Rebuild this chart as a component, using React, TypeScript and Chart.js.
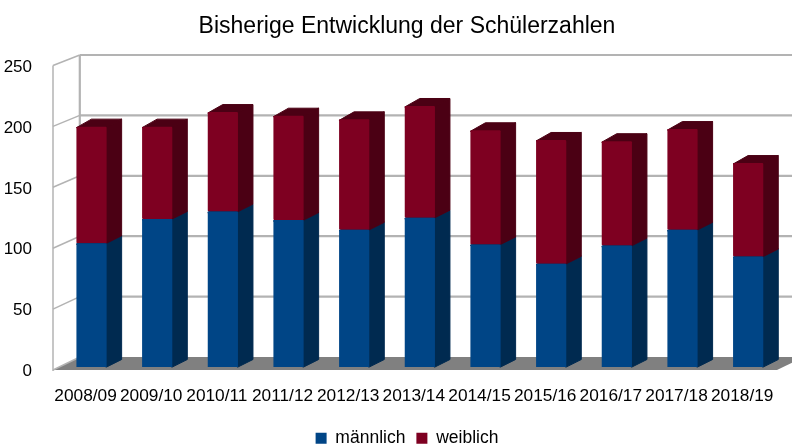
import React, { useEffect, useRef } from "react";
import { Chart, registerables } from "chart.js";

Chart.register(...registerables);

const categories = ["2008/09", "2009/10", "2010/11", "2011/12", "2012/13", "2013/14", "2014/15", "2015/16", "2016/17", "2017/18", "2018/19"];
const maleValues = [102, 122, 128, 121, 113, 123, 101, 85, 100, 113, 91];
const femaleValues = [96, 76, 82, 86, 91, 92, 94, 102, 86, 83, 77];
const yTicks = [0, 50, 100, 150, 200, 250];

const FONT = "'Liberation Sans', Arial, sans-serif";
const DEPTH_X = 15;
const DEPTH_Y = 7.5;

const shades: Record<string, { side: string; top: string }> = {
  "#004586": { side: "#002a50", top: "#002a50" },
  "#7e0021": { side: "#4b0014", top: "#4b0014" },
};

function poly(ctx: CanvasRenderingContext2D, pts: number[][], fill: string, round = false) {
  ctx.beginPath();
  pts.forEach((p, i) => (i ? ctx.lineTo(p[0], p[1]) : ctx.moveTo(p[0], p[1])));
  ctx.closePath();
  ctx.fillStyle = fill;
  ctx.fill();
  if (round) {
    ctx.strokeStyle = fill;
    ctx.lineWidth = 1;
    ctx.lineJoin = "round";
    ctx.stroke();
  }
}

const scene3d = {
  id: "scene3d",
  afterLayout(chart: any) {
    chart.scales.y.left = 0;
  },
  beforeDatasetsDraw(chart: any) {
    const { ctx, chartArea, scales } = chart;
    const y = scales.y;
    const frontL = chartArea.left - 5.7;
    const backL = frontL + 26.8;
    const frontR = chartArea.right - 4;
    const backR = frontR + 26.8;
    const fOff = (v: number) => 3 - v / 250;
    const bOff = (v: number) => -10 + (1.5 * v) / 250;
    ctx.save();
    const y0 = y.getPixelForValue(0);
    poly(ctx, [[frontL, y0 + fOff(0)], [backL, y0 + bOff(0)], [backR, y0 + bOff(0)], [frontR, y0 + fOff(0)]], "#808080");
    ctx.strokeStyle = "#b3b3b3";
    yTicks.forEach((v) => {
      const py = y.getPixelForValue(v);
      ctx.lineWidth = 1.5;
      ctx.beginPath();
      ctx.moveTo(frontL, py + fOff(v));
      ctx.lineTo(backL, py + bOff(v));
      ctx.stroke();
      if (v > 0) {
        ctx.lineWidth = 2.2;
        ctx.beginPath();
        ctx.moveTo(backL, py + bOff(v));
        ctx.lineTo(chart.width, py + bOff(v));
        ctx.stroke();
      }
    });
    const yTop = y.getPixelForValue(250);
    ctx.lineWidth = 1.5;
    ctx.beginPath();
    ctx.moveTo(frontL, yTop + fOff(250));
    ctx.lineTo(frontL, y0 + fOff(0) + 1);
    ctx.stroke();
    ctx.lineWidth = 2.2;
    ctx.beginPath();
    ctx.moveTo(backL, yTop + bOff(250));
    ctx.lineTo(backL, y0 + bOff(0));
    ctx.stroke();
    chart.data.datasets.forEach((ds: any, di: number) => {
      const s = shades[ds.backgroundColor];
      chart.getDatasetMeta(di).data.forEach((el: any) => {
        const p = el.getProps(["x", "y", "base", "width"], true);
        const l = p.x - p.width / 2;
        const r = p.x + p.width / 2;
        poly(ctx, [[r - 1, p.base], [r, p.base], [r + DEPTH_X, p.base - DEPTH_Y], [r + DEPTH_X, p.y - DEPTH_Y], [r, p.y], [r - 1, p.y]], s.side, true);
        poly(ctx, [[l, p.y + 1], [l + DEPTH_X, p.y - DEPTH_Y], [r + DEPTH_X, p.y - DEPTH_Y], [r, p.y + 1]], s.top, true);
      });
    });
    ctx.restore();
  },
};

export default function App() {
  const ref = useRef<HTMLCanvasElement>(null);
  useEffect(() => {
    const chart = new Chart(ref.current!, {
      type: "bar",
      data: {
        labels: categories,
        datasets: [
          { label: "männlich", data: maleValues, backgroundColor: "#004586", borderRadius: 1, borderSkipped: false },
          { label: "weiblich", data: femaleValues, backgroundColor: "#7e0021", borderRadius: 1, borderSkipped: false },
        ],
      },
      plugins: [scene3d],
      options: {
        responsive: false,
        animation: false,
        events: [],
        layout: { padding: { left: 33, right: 11, top: 0, bottom: -12 } },
        datasets: { bar: { barPercentage: 1, categoryPercentage: 0.46 } },
        scales: {
          x: {
            stacked: true,
            grid: { display: false },
            border: { display: false },
            ticks: {
              color: "#000",
              font: { family: FONT, size: 17.3 },
              padding: 10.6,
              labelOffset: -6,
              autoSkip: false,
              maxRotation: 0,
              minRotation: 0,
            },
            afterFit(s: any) {
              s.height = 51.5;
              s.paddingLeft = 0;
              s.paddingRight = 0;
            },
          },
          y: {
            stacked: true,
            min: 0,
            max: 250,
            grid: { display: false },
            border: { display: false },
            afterBuildTicks(s: any) {
              s.ticks = yTicks.map((value) => ({ value }));
            },
            ticks: {
              color: "#000",
              font: { family: FONT, size: 17 },
              padding: 18.7,
              labelOffset: 4,
            },
            afterFit(s: any) {
              s.width = 25.7;
              s.paddingTop = 0;
              s.paddingBottom = 0;
            },
          },
        },
        plugins: {
          tooltip: { enabled: false },
          title: {
            display: true,
            text: "Bisherige Entwicklung der Schülerzahlen",
            color: "#000",
            font: { family: FONT, size: 23, weight: "normal" },
            padding: { top: 12.5, bottom: 23.4 },
          },
          legend: {
            position: "bottom",
            labels: {
              color: "#000",
              font: { family: FONT, size: 17.5 },
              boxWidth: 11,
              boxHeight: 11,
              padding: 11,
            },
          },
        },
      },
    } as any);
    return () => chart.destroy();
  }, []);
  return (
    <div style={{ position: "fixed", left: 0, top: 0, width: 792, height: 445, overflow: "hidden", background: "#fff" }}>
      <canvas ref={ref} width={792} height={445} style={{ display: "block" }} />
    </div>
  );
}
